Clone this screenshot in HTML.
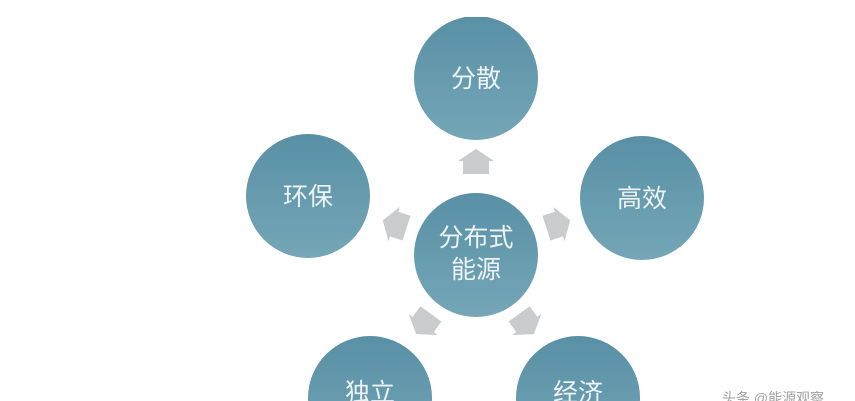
<!DOCTYPE html>
<html><head><meta charset="utf-8"><style>
body{margin:0;width:855px;height:401px;overflow:hidden;background:#fff;}
svg{display:block;}
</style></head><body>
<svg width="855" height="401" xmlns="http://www.w3.org/2000/svg">
<defs>
<linearGradient id="g" x1="0" y1="0" x2="0" y2="1">
<stop offset="0%" stop-color="#5990a5"/><stop offset="100%" stop-color="#74a6b7"/>
</linearGradient>
<polygon id="ar" points="-13,10 -13,-3 -18,-3 0,-15 18,-3 13,-3 13,10" fill="#c9cbcd"/>
</defs>
<g fill="url(#g)">
<circle cx="476" cy="78" r="62"/>
<circle cx="308" cy="196" r="62"/>
<circle cx="642" cy="198" r="62"/>
<circle cx="476" cy="255" r="62"/>
<circle cx="370" cy="398" r="62"/>
<circle cx="578" cy="398" r="62"/>
</g>
<rect x="0" y="0" width="855" height="17" fill="#fff"/>
<use href="#ar" transform="translate(476,164)"/>
<use href="#ar" transform="translate(397,225) rotate(-72)"/>
<use href="#ar" transform="translate(556,225) rotate(72)"/>
<use href="#ar" transform="translate(425,322) rotate(-144)"/>
<use href="#ar" transform="translate(525,322) rotate(144)"/>
<g fill="#eef3f5" font-family="'Liberation Sans','Noto Sans CJK SC',sans-serif" font-size="25" text-anchor="middle">
<text x="476" y="87">分散</text>
<text x="308" y="205">环保</text>
<text x="642" y="207">高效</text>
<text x="476" y="246">分布式</text>
<text x="476" y="278">能源</text>
<text x="370" y="401">独立</text>
<text x="578" y="401">经济</text>
</g>
<text x="722" y="403" font-family="'Liberation Sans','Noto Sans CJK SC',sans-serif" font-size="14" fill="#a0a0a0">头条 @能源观察</text>
</svg>
</body></html>
